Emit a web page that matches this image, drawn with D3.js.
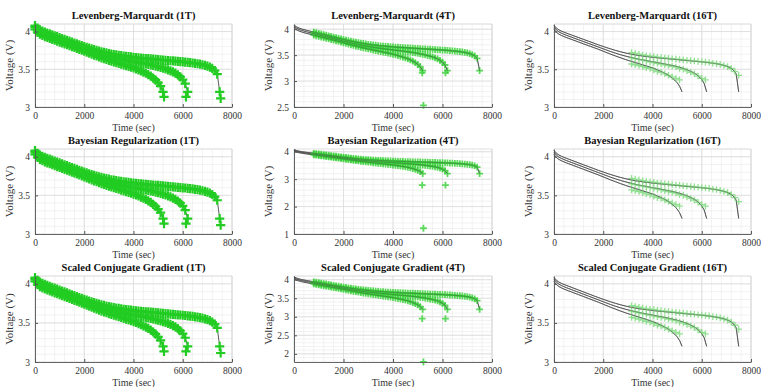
<!DOCTYPE html>
<html>
<head>
<meta charset="utf-8">
<script src="https://cdn.jsdelivr.net/npm/d3@7"></script>
<style>
  body { margin: 0; background: #fff; }
</style>
</head>
<body>
<svg id="chart" width="761" height="387"></svg>
<script>
// ------ Data
var algorithms = ["Levenberg-Marquardt", "Bayesian Regularization", "Scaled Conjugate Gradient"];
var horizons = ["1T", "4T", "16T"];

// measured discharge curves, one value every sampleStep seconds from t = 0
var sampleStep = 100;
var voltCell1 = [4.030,3.990,3.965,3.948,3.934,3.921,3.909,3.897,3.885,3.873,3.861,3.849,3.837,3.825,3.813,3.801,3.789,3.777,3.765,3.752,
  3.739,3.726,3.713,3.700,3.688,3.676,3.664,3.652,3.641,3.630,3.619,3.609,3.599,3.589,3.579,3.569,3.559,3.549,3.539,3.528,
  3.517,3.505,3.492,3.478,3.463,3.447,3.429,3.408,3.384,3.356,3.322,3.276,3.200];
var voltCell2 = [4.060,4.020,3.995,3.978,3.964,3.951,3.939,3.927,3.915,3.903,3.891,3.879,3.867,3.855,3.843,3.831,3.819,3.807,3.795,3.783,
  3.771,3.759,3.747,3.735,3.724,3.713,3.703,3.693,3.684,3.675,3.667,3.659,3.651,3.644,3.637,3.630,3.624,3.618,3.612,3.606,
  3.600,3.594,3.588,3.582,3.576,3.570,3.564,3.557,3.550,3.543,3.535,3.526,3.516,3.505,3.493,3.480,3.465,3.448,3.427,3.400,
  3.363,3.310,3.200];
var voltCell3 = [4.080,4.045,4.022,4.006,3.992,3.980,3.968,3.956,3.944,3.932,3.920,3.908,3.896,3.884,3.872,3.860,3.848,3.836,3.824,3.813,
  3.802,3.791,3.780,3.770,3.760,3.750,3.741,3.732,3.724,3.716,3.709,3.702,3.696,3.690,3.685,3.680,3.675,3.671,3.667,3.663,
  3.659,3.655,3.652,3.649,3.646,3.643,3.640,3.637,3.634,3.631,3.628,3.625,3.622,3.619,3.616,3.613,3.610,3.607,3.604,3.601,
  3.598,3.595,3.591,3.587,3.583,3.578,3.573,3.567,3.560,3.552,3.542,3.529,3.511,3.484,3.437,3.200];

// 1T prediction follows the measured samples, plus the stray last points
var outliers1T = [[5240, 3.135], [6130, 3.135], [7540, 3.115]];

// 4T prediction starts later, stray points differ by training algorithm
var pred4Start = 800;
var outliers4T = [
  [[5180, 3.16], [5230, 2.53], [6120, 3.16]],
  [[5180, 2.78], [5230, 1.21], [6120, 2.78]],
  [[5180, 2.95], [5230, 1.78], [6120, 2.95]]
];

// 16T prediction, one value every pred16Step seconds from pred16Start
var pred16Start = 3150, pred16Step = 150;
var pred16Cell1 = [3.570,3.560,3.550,3.535,3.520,3.510,3.490,3.470,3.460,3.440,3.420,3.400,3.380,3.360];
var pred16Cell2 = [3.650,3.640,3.630,3.620,3.610,3.600,3.590,3.580,3.570,3.560,3.550,3.540,3.530,3.510,3.500,3.480,3.460,3.440,3.410,3.380,3.360];
var pred16Cell3 = [3.720,3.710,3.700,3.690,3.680,3.675,3.670,3.660,3.655,3.650,3.645,3.640,3.635,3.630,3.625,3.620,3.615,3.610,3.605,3.600,
  3.595,3.590,3.580,3.575,3.565,3.550,3.535,3.510,3.470,3.420];

// y axis per panel [row][col]
var yDomains = [
  [[3, 4.1], [2.5, 4.1], [3, 4.1]],
  [[3, 4.1], [1, 4.1], [3, 4.1]],
  [[3, 4.1], [1.78, 4.1], [3, 4.1]]
];
var yTickVals = [
  [[3, 3.5, 4], [2.5, 3, 3.5, 4], [3, 3.5, 4]],
  [[3, 3.5, 4], [1, 2, 3, 4], [3, 3.5, 4]],
  [[3, 3.5, 4], [2, 2.5, 3, 3.5, 4], [3, 3.5, 4]]
];
var xTickVals = [0, 2000, 4000, 6000, 8000];

// ------ Layout
var colX = [[35, 232], [294, 492], [554, 751]];
var rowY = [[24, 107], [149, 234], [276, 362]];
var serif = "'Liberation Serif', Tinos, 'DejaVu Serif', serif";

var markerStyle = {
  "1T":  {half: 4.6, color: "#22cc22", width: 2.2, opacity: 1},
  "4T":  {half: 3.4, color: "#36d036", width: 1.8, opacity: 0.8},
  "16T": {half: 3.3, color: "#86de86", width: 1.3, opacity: 0.9}
};

var svg = d3.select("#chart");
svg.append("rect").attr("width", 761).attr("height", 387).attr("fill", "#fff");

var measured = [voltCell1, voltCell2, voltCell3].map(function(arr) {
  return arr.map(function(v, i) { return {t: i * sampleStep, v: v}; });
});
var pred16 = [pred16Cell1, pred16Cell2, pred16Cell3].map(function(arr) {
  return arr.map(function(v, i) { return {t: pred16Start + i * pred16Step, v: v}; });
});

function predictions(row, col) {
  var pts = [];
  if (horizons[col] === "1T") {
    measured.forEach(function(c) { pts = pts.concat(c); });
    outliers1T.forEach(function(o) { pts.push({t: o[0], v: o[1]}); });
  } else if (horizons[col] === "4T") {
    measured.forEach(function(c) { pts = pts.concat(c.filter(function(d) { return d.t >= pred4Start; })); });
    outliers4T[row].forEach(function(o) { pts.push({t: o[0], v: o[1]}); });
  } else {
    pred16.forEach(function(c) { pts = pts.concat(c); });
  }
  return pts;
}

function minorTicks(lo, hi, step) {
  var out = [];
  var start = Math.ceil(lo / step - 1e-9) * step;
  for (var v = start; v <= hi + 1e-9; v += step) out.push(+v.toFixed(4));
  return out;
}

algorithms.forEach(function(alg, row) {
  horizons.forEach(function(hz, col) {
    var x = d3.scaleLinear().domain([0, 8000]).range(colX[col]);
    var y = d3.scaleLinear().domain(yDomains[row][col]).range([rowY[row][1], rowY[row][0]]);
    var g = svg.append("g").attr("class", "panel");
    var x0 = colX[col][0], x1 = colX[col][1], yTop = rowY[row][0], yBot = rowY[row][1];

    var ticksY = yTickVals[row][col];
    var yMinorStep = (ticksY[1] - ticksY[0]) / 5;
    var dom = yDomains[row][col];

    // minor grid
    g.append("g").selectAll("line").data(minorTicks(0, 8000, 400)).enter().append("line")
      .attr("x1", d => x(d)).attr("x2", d => x(d)).attr("y1", yTop).attr("y2", yBot)
      .attr("stroke", "#ececec").attr("stroke-width", 0.7);
    g.append("g").selectAll("line").data(minorTicks(dom[0], dom[1], yMinorStep)).enter().append("line")
      .attr("x1", x0).attr("x2", x1).attr("y1", d => y(d)).attr("y2", d => y(d))
      .attr("stroke", "#ececec").attr("stroke-width", 0.7);
    // major grid
    g.append("g").selectAll("line").data(xTickVals).enter().append("line")
      .attr("x1", d => x(d)).attr("x2", d => x(d)).attr("y1", yTop).attr("y2", yBot)
      .attr("stroke", "#dcdcdc").attr("stroke-width", 0.8);
    g.append("g").selectAll("line").data(ticksY).enter().append("line")
      .attr("x1", x0).attr("x2", x1).attr("y1", d => y(d)).attr("y2", d => y(d))
      .attr("stroke", "#dcdcdc").attr("stroke-width", 0.8);
    // light box top/right
    g.append("path")
      .attr("d", "M" + x0 + "," + yTop + "H" + x1 + "V" + yBot)
      .attr("fill", "none").attr("stroke", "#d8d8d8").attr("stroke-width", 0.8);

    // measured lines
    var line = d3.line().x(d => x(d.t)).y(d => y(d.v));
    g.append("g").selectAll("path").data(measured).enter().append("path")
      .attr("d", line)
      .attr("fill", "none").attr("stroke", "#4a4a4a").attr("stroke-width", 0.9);

    // predicted markers
    var ms = markerStyle[hz];
    var plus = "M" + (-ms.half) + ",0H" + ms.half + "M0," + (-ms.half) + "V" + ms.half;
    g.append("g").selectAll("path").data(predictions(row, col)).enter().append("path")
      .attr("d", plus)
      .attr("transform", d => "translate(" + x(d.t) + "," + y(d.v) + ")")
      .attr("fill", "none").attr("stroke", ms.color)
      .attr("stroke-width", ms.width).attr("stroke-opacity", ms.opacity);

    // 4T / 16T: measured line shows through the markers
    if (hz !== "1T") {
      g.append("g").selectAll("path").data(measured).enter().append("path")
        .attr("d", line)
        .attr("fill", "none").attr("stroke", "#4a4a4a").attr("stroke-width", 0.6).attr("stroke-opacity", 0.7);
    }

    // axes
    var xAxis = d3.axisBottom(x).tickValues(xTickVals).tickSizeInner(-3).tickSizeOuter(0).tickPadding(5).tickFormat(d3.format("d"));
    var yAxis = d3.axisLeft(y).tickValues(ticksY).tickSizeInner(-3).tickSizeOuter(0).tickPadding(5).tickFormat(d3.format("~g"));
    var gx = g.append("g").attr("transform", "translate(0," + yBot + ")").call(xAxis);
    var gy = g.append("g").attr("transform", "translate(" + x0 + ",0)").call(yAxis);
    [gx, gy].forEach(function(a) {
      a.attr("font-family", serif).attr("font-size", 9.5);
      a.select(".domain").attr("stroke", "#555").attr("stroke-width", 0.9);
      a.selectAll(".tick line").attr("stroke", "#555");
      a.selectAll(".tick text").attr("fill", "#333");
    });

    // title and labels
    g.append("text")
      .attr("x", (x0 + x1) / 2).attr("y", yTop - 5)
      .attr("text-anchor", "middle")
      .attr("font-family", serif).attr("font-size", 10.5).attr("font-weight", "bold").attr("fill", "#111")
      .text(alg + " (" + hz + ")");
    g.append("text")
      .attr("transform", "translate(" + (x0 - 22) + "," + ((yTop + yBot) / 2) + ") rotate(-90)")
      .attr("text-anchor", "middle")
      .attr("font-family", serif).attr("font-size", 11).attr("fill", "#333")
      .text("Voltage (V)");
    g.append("text")
      .attr("x", (x0 + x1) / 2).attr("y", yBot + 24)
      .attr("text-anchor", "middle")
      .attr("font-family", serif).attr("font-size", 10).attr("fill", "#333")
      .text("Time (sec)");
  });
});
</script>
</body>
</html>
